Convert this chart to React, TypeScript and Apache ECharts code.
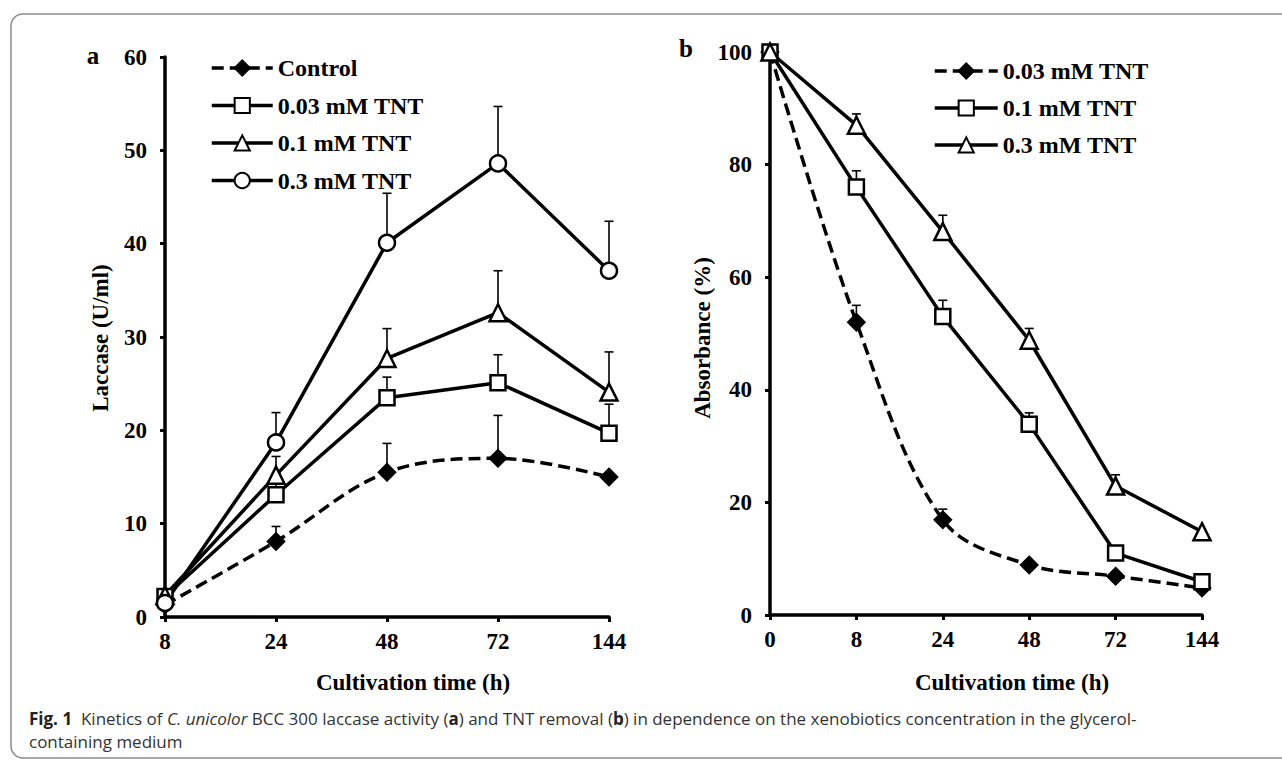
import React, { useEffect, useRef } from "react";
import * as echarts from "echarts";

// Panel a: laccase activity (U/ml)
const catsA = ["8", "24", "48", "72", "144"];
const controlA = [1.3, 8.1, 15.5, 17.0, 15.0];
const controlAErr = [0, 1.6, 3.1, 4.6, 0];
const tnt003A = [2.2, 13.1, 23.5, 25.1, 19.7];
const tnt003AErr = [0, 1.5, 2.2, 3.0, 3.1];
const tnt01A = [2.3, 15.2, 27.7, 32.6, 24.1];
const tnt01AErr = [0, 2.0, 3.2, 4.5, 4.3];
const tnt03A = [1.5, 18.7, 40.1, 48.6, 37.1];
const tnt03AErr = [0, 3.2, 5.3, 6.1, 5.3];

// Panel b: absorbance (%)
const catsB = ["0", "8", "24", "48", "72", "144"];
const tnt003B = [100, 52.0, 16.9, 8.9, 6.9, 4.8];
const tnt003BErr = [0, 3.0, 1.9, 0.4, 0, 0];
const tnt01B = [100, 76.0, 53.0, 33.9, 11.0, 5.9];
const tnt01BErr = [0, 2.9, 2.9, 2.0, 0, 0];
const tnt03B = [100, 87.0, 68.1, 48.8, 22.9, 14.8];
const tnt03BErr = [0, 2.0, 2.9, 2.1, 2.0, 0];

const legendA = ["Control", "0.03 mM TNT", "0.1 mM TNT", "0.3 mM TNT"];
const legendB = ["0.03 mM TNT", "0.1 mM TNT", "0.3 mM TNT"];

const SERIF = "'Liberation Serif', 'Times New Roman', serif";
const SANS = "'Open Sans', 'Noto Sans', sans-serif";

function errSeries(axis: number, vals: number[], errs: number[]) {
  const data = vals
    .map((v, i) => [i, v, v + errs[i], errs[i]])
    .filter((d) => d[3] > 0);
  return {
    type: "custom",
    xAxisIndex: axis,
    yAxisIndex: axis,
    z: 1,
    silent: true,
    encode: { x: 0, y: [1, 2] },
    data,
    renderItem: (_params: any, api: any) => {
      const p0 = api.coord([api.value(0), api.value(1)]);
      const p1 = api.coord([api.value(0), api.value(2)]);
      const st = { stroke: "#000", lineWidth: 1.6 };
      return {
        type: "group",
        children: [
          { type: "line", shape: { x1: p0[0], y1: p0[1], x2: p1[0], y2: p1[1] }, style: st },
          { type: "line", shape: { x1: p1[0] - 4.5, y1: p1[1], x2: p1[0] + 4.5, y2: p1[1] }, style: st },
        ],
      };
    },
  };
}

function lineSeries(name: string, axis: number, vals: number[], symbol: string, size: number, dashed: boolean) {
  const filled = symbol === "diamond";
  return {
    type: "line",
    name,
    xAxisIndex: axis,
    yAxisIndex: axis,
    data: vals,
    z: 3,
    smooth: dashed ? 0.35 : false,
    symbol,
    symbolSize: size,
    showSymbol: true,
    lineStyle: { color: "#000", width: 3.5, type: dashed ? [12, 6] : "solid" },
    itemStyle: {
      color: filled ? "#000" : "#fff",
      borderColor: "#000",
      borderWidth: 2.5,
      opacity: 1,
    },
  };
}

function xAxis(cats: string[], idx: number) {
  return {
    type: "category",
    gridIndex: idx,
    data: cats,
    boundaryGap: false,
    axisLine: { show: true, lineStyle: { color: "#000", width: 3.5 } },
    axisTick: { show: true, inside: false, length: 5, lineStyle: { color: "#000", width: 3 } },
    axisLabel: { color: "#000", fontFamily: SERIF, fontWeight: "bold", fontSize: 23, margin: 13 },
    splitLine: { show: false },
  };
}

function yAxis(max: number, interval: number, idx: number) {
  return {
    type: "value",
    gridIndex: idx,
    min: 0,
    max,
    interval,
    axisLine: { show: true, lineStyle: { color: "#000", width: 3.5 } },
    axisTick: { show: true, inside: false, length: 5, lineStyle: { color: "#000", width: 3 } },
    axisLabel: { color: "#000", fontFamily: SERIF, fontWeight: "bold", fontSize: 23, margin: 18 },
    splitLine: { show: false },
  };
}

const legendText = { color: "#000", fontFamily: SERIF, fontWeight: "bold", fontSize: 24 };

export default function App() {
  const ref = useRef<HTMLDivElement>(null);
  useEffect(() => {
    if (!ref.current) return;
    const chart = echarts.init(ref.current, null, { renderer: "svg" });
    const option: any = {
      animation: false,
      backgroundColor: "#fff",
      grid: [
        { left: 165, top: 57, width: 444, height: 560, containLabel: false },
        { left: 770, top: 52, width: 432, height: 563, containLabel: false },
      ],
      xAxis: [xAxis(catsA, 0), xAxis(catsB, 1)],
      yAxis: [yAxis(60, 10, 0), yAxis(100, 20, 1)],
      legend: [
        {
          data: legendA,
          orient: "vertical",
          left: 210,
          top: 56,
          itemWidth: 61,
          itemHeight: 19,
          itemGap: 13.5,
          padding: 0,
          selectedMode: false,
          textStyle: legendText,
          lineStyle: { width: 3.5 },
        },
        {
          data: legendB.map((n) => "b " + n),
          formatter: (n: string) => n.replace(/^b /, ""),
          orient: "vertical",
          left: 933,
          top: 59,
          itemWidth: 63,
          itemHeight: 19,
          itemGap: 13,
          padding: 0,
          selectedMode: false,
          textStyle: legendText,
          lineStyle: { width: 3.5 },
        },
      ],
      series: [
        errSeries(0, controlA, controlAErr),
        errSeries(0, tnt003A, tnt003AErr),
        errSeries(0, tnt01A, tnt01AErr),
        errSeries(0, tnt03A, tnt03AErr),
        errSeries(1, tnt003B, tnt003BErr),
        errSeries(1, tnt01B, tnt01BErr),
        errSeries(1, tnt03B, tnt03BErr),
        lineSeries(legendA[0], 0, controlA, "diamond", 16, true),
        lineSeries(legendA[1], 0, tnt003A, "rect", 15, false),
        lineSeries(legendA[2], 0, tnt01A, "triangle", 17, false),
        lineSeries(legendA[3], 0, tnt03A, "circle", 16, false),
        lineSeries("b " + legendB[0], 1, tnt003B, "diamond", 16, true),
        lineSeries("b " + legendB[1], 1, tnt01B, "rect", 15, false),
        lineSeries("b " + legendB[2], 1, tnt03B, "triangle", 17, false),
      ],
      graphic: [
        {
          type: "rect",
          shape: { x: 11, y: 14, width: 1300, height: 744, r: 12 },
          style: { fill: "none", stroke: "#8a8a8a", lineWidth: 1.5 },
          silent: true,
        },
        {
          type: "text",
          x: 93,
          y: 55,
          style: { text: "a", font: `bold 25px ${SERIF}`, fill: "#000", align: "center", verticalAlign: "middle" },
        },
        {
          type: "text",
          x: 686,
          y: 48,
          style: { text: "b", font: `bold 25px ${SERIF}`, fill: "#000", align: "center", verticalAlign: "middle" },
        },
        {
          type: "text",
          x: 100,
          y: 338,
          rotation: Math.PI / 2,
          style: { text: "Laccase (U/ml)", font: `bold 23px ${SERIF}`, fill: "#000", align: "center", verticalAlign: "middle" },
        },
        {
          type: "text",
          x: 702,
          y: 338,
          rotation: Math.PI / 2,
          style: { text: "Absorbance (%)", font: `bold 23px ${SERIF}`, fill: "#000", align: "center", verticalAlign: "middle" },
        },
        {
          type: "text",
          x: 413,
          y: 682,
          style: { text: "Cultivation time (h)", font: `bold 23px ${SERIF}`, fill: "#000", align: "center", verticalAlign: "middle" },
        },
        {
          type: "text",
          x: 1012,
          y: 682,
          style: { text: "Cultivation time (h)", font: `bold 23px ${SERIF}`, fill: "#000", align: "center", verticalAlign: "middle" },
        },
        {
          type: "text",
          x: 29,
          y: 707,
          style: {
            text:
              "{b|Fig. 1}  Kinetics of {i|C. unicolor} BCC 300 laccase activity ({b|a}) and TNT removal ({b|b}) in dependence on the xenobiotics concentration in the glycerol-\ncontaining medium",
            font: `17px ${SANS}`,
            fill: "#333",
            lineHeight: 23,
            verticalAlign: "top",
            rich: {
              b: { fontWeight: "bold", fontFamily: SANS, fontSize: 17, fill: "#222", lineHeight: 23 },
              i: { fontStyle: "italic", fontFamily: SANS, fontSize: 17, fill: "#333", lineHeight: 23 },
            },
          },
        },
      ],
    };
    chart.setOption(option);
    return () => chart.dispose();
  }, []);
  return (
    <div
      ref={ref}
      style={{ position: "fixed", left: 0, top: 0, width: 1282, height: 761, background: "#fff" }}
    />
  );
}
